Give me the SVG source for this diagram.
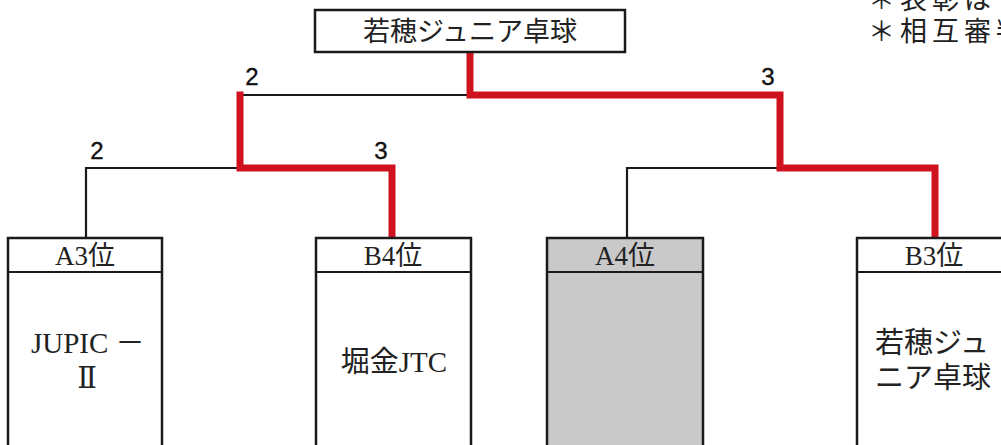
<svg xmlns="http://www.w3.org/2000/svg" width="1001" height="445" viewBox="0 0 1001 445">
<style>
.box{fill:#fff;stroke:#1a1a1a;stroke-width:2.5}
.gray{fill:#c9c9c9}
.mincho{font-family:"Liberation Serif","Noto Sans CJK JP",serif;fill:#222}
.hdr{font-size:27px;text-anchor:middle}
.name{font-size:29px}
.score{font-family:"Liberation Sans","DejaVu Sans",sans-serif;font-size:24px;fill:#111;stroke:#111;stroke-width:0.4;text-anchor:middle}
.note{font-family:"Noto Sans CJK JP",sans-serif;font-size:27px;letter-spacing:5px;fill:#222}
.blk{fill:none;stroke:#1a1a1a;stroke-width:2.2}
.red{fill:none;stroke:#d0121f;stroke-width:7;stroke-linejoin:miter;stroke-linecap:square}
</style>
<rect width="1001" height="445" fill="#fff"/>
<g id="note">
<text class="note" x="868" y="9">＊表彰は</text>
<text class="note" x="868" y="41">＊相互審判</text>
</g>
<g id="connectors">
<path class="blk" d="M240,95 H470"/>
<path class="blk" d="M86,238 V168 H240"/>
<path class="blk" d="M627,238 V168 H780"/>
<path class="red" d="M470,54 V95 H780 V168 H935 V236"/>
<path class="red" d="M240,95 V168 H392 V236"/>
<text class="score" x="252" y="85">2</text>
<text class="score" x="768" y="85">3</text>
<text class="score" x="97" y="159">2</text>
<text class="score" x="381" y="159">3</text>
</g>
<g id="winner">
<rect class="box" x="315" y="10" width="310" height="42"/>
<text class="mincho" x="470" y="41" font-size="27" text-anchor="middle">若穂ジュニア卓球</text>
</g>
<g id="a3">
<rect class="box" x="8" y="238" width="154" height="230"/>
<line class="blk" x1="8" y1="272" x2="162" y2="272" stroke-width="2.5"/>
<text class="mincho hdr" x="85" y="265">A3位</text>
<text class="mincho name" x="31" y="353">JUPIC －</text>
<text class="name" x="87" y="388" text-anchor="middle" font-family="DejaVu Serif,Liberation Serif,serif" fill="#222">Ⅱ</text>
</g>
<g id="b4">
<rect class="box" x="316" y="238" width="155" height="230"/>
<line class="blk" x1="316" y1="272" x2="471" y2="272" stroke-width="2.5"/>
<text class="mincho hdr" x="393" y="265">B4位</text>
<text class="mincho name" x="394" y="372" text-anchor="middle">堀金JTC</text>
</g>
<g id="a4">
<rect class="box gray" x="547" y="238" width="156" height="230"/>
<line class="blk" x1="547" y1="272" x2="703" y2="272" stroke-width="2.5"/>
<text class="mincho hdr" x="625" y="265">A4位</text>
</g>
<g id="b3">
<rect class="box" x="857" y="238" width="156" height="230"/>
<line class="blk" x1="857" y1="272" x2="1013" y2="272" stroke-width="2.5"/>
<text class="mincho hdr" x="934" y="265">B3位</text>
<text class="mincho name" x="875" y="353">若穂ジュ</text>
<text class="mincho name" x="875" y="388">ニア卓球</text>
</g>
</svg>
